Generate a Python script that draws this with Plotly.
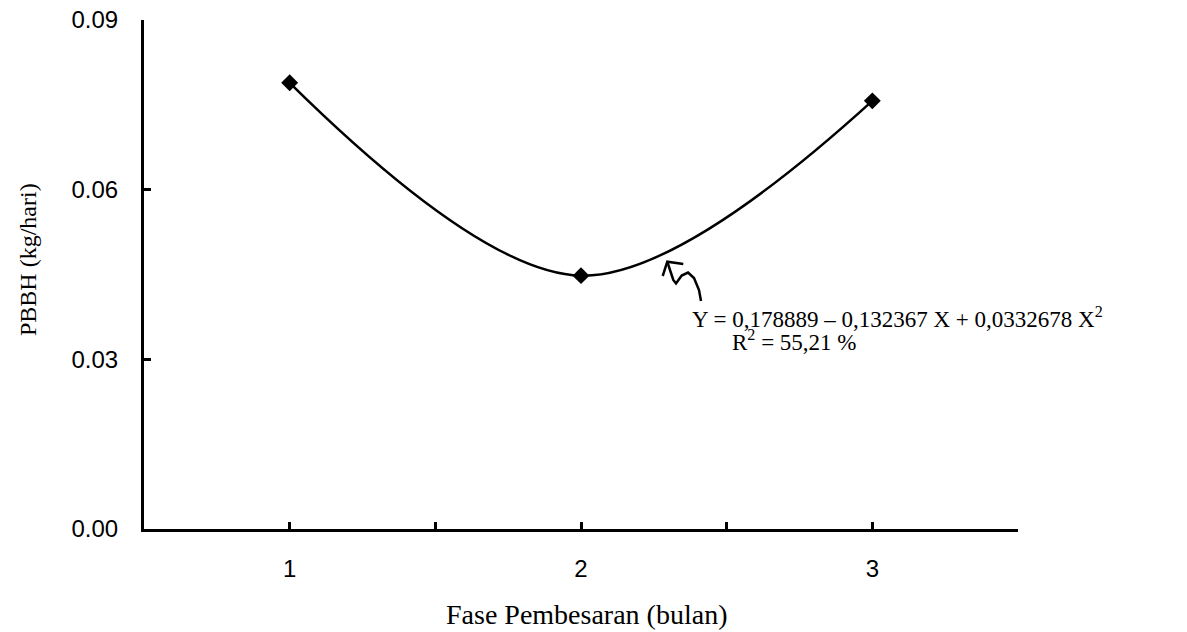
import plotly.graph_objects as go

# Data
fase = [1, 2, 3]
pbbh = [0.0789, 0.0448, 0.0757]
x_tickvals = [1, 2, 3]
x_ticktext = ["1", "2", "3"]
y_tickvals = [0.0, 0.03, 0.06, 0.09]
y_ticktext = ["0.00", "0.03", "0.06", "0.09"]

W, H = 1187, 632
OFF = 8  # default body margin of the html page
L, R, T, B = 144, 1018, 20, 529


def px(x, y):
    return (x - L) / (R - L), (B - y) / (B - T)


fig = go.Figure()
fig.add_trace(go.Scatter(
    x=fase, y=pbbh, mode="lines+markers",
    line=dict(color="black", width=2.5, shape="spline", smoothing=1),
    marker=dict(symbol="diamond", size=13, color="black"),
    showlegend=False,
))

# squiggle arrow
pts_head = [(662.7, 276), (667.3, 261.7), (683.3, 264)]
pts_sq = [(667.3, 261.7), (670, 270), (673.3, 280), (676, 283.5), (681.7, 275.5),
          (688, 272.5), (694, 278), (699, 290), (701, 301)]


def path(pts):
    s = ""
    for i, (a, b) in enumerate(pts):
        xp, yp = px(a, b)
        s += ("M" if i == 0 else "L") + f"{xp:.5f},{yp:.5f} "
    return s


for p in (pts_head, pts_sq):
    fig.add_shape(type="path", path=path(p), xref="paper", yref="paper",
                  line=dict(color="black", width=2.5))

serif = "Liberation Serif, Times New Roman, serif"
sans = "Liberation Sans, Arial, sans-serif"

x0, y0 = px(690, 317)
fig.add_annotation(x=x0, y=y0, xref="paper", yref="paper", xanchor="left", yanchor="middle",
                   text="Y = 0,178889 – 0,132367 X + 0,0332678 X<sup>2</sup>", showarrow=False,
                   font=dict(family=serif, size=23, color="black"))
x1, y1 = px(730, 340)
fig.add_annotation(x=x1, y=y1, xref="paper", yref="paper", xanchor="left", yanchor="middle",
                   text="R<sup>2</sup> = 55,21 %", showarrow=False,
                   font=dict(family=serif, size=23, color="black"))

# axis titles as annotations
xt, yt = px(586, 614)
fig.add_annotation(x=xt, y=yt, xref="paper", yref="paper", xanchor="center", yanchor="middle",
                   text="Fase Pembesaran (bulan)", showarrow=False,
                   font=dict(family=serif, size=28, color="black"))
xy, yy = px(28, 260)
fig.add_annotation(x=xy, y=yy, xref="paper", yref="paper", xanchor="center", yanchor="middle",
                   text="PBBH (kg/hari)", showarrow=False, textangle=-90,
                   font=dict(family=serif, size=24, color="black"))

fig.update_layout(
    width=W - OFF, height=H - OFF,
    margin=dict(l=L - OFF, r=W - R, t=T - OFF, b=H - B, autoexpand=False),
    paper_bgcolor="white", plot_bgcolor="white",
    xaxis=dict(range=[0.5, 3.5], tickvals=x_tickvals, ticktext=x_ticktext,
               showgrid=False, zeroline=False, showline=True, linecolor="black", linewidth=3,
               ticks="inside", ticklen=7, tickwidth=3, tickcolor="black",
               minor=dict(tick0=0.5, dtick=0.5, ticks="inside", ticklen=7, tickwidth=3,
                          tickcolor="black", showgrid=False),
               ticklabelstandoff=16, ticklabeloverflow="allow", automargin=False,
               tickfont=dict(family=sans, size=24, color="black")),
    yaxis=dict(range=[0, 0.09], tickvals=y_tickvals, ticktext=y_ticktext,
               showgrid=False, zeroline=False, showline=True, linecolor="black", linewidth=3,
               ticks="inside", ticklen=7, tickwidth=3, tickcolor="black",
               ticklabelstandoff=18, ticklabeloverflow="allow", automargin=False,
               tickfont=dict(family=sans, size=24, color="black")),
)

fig.write_html("out.html")
